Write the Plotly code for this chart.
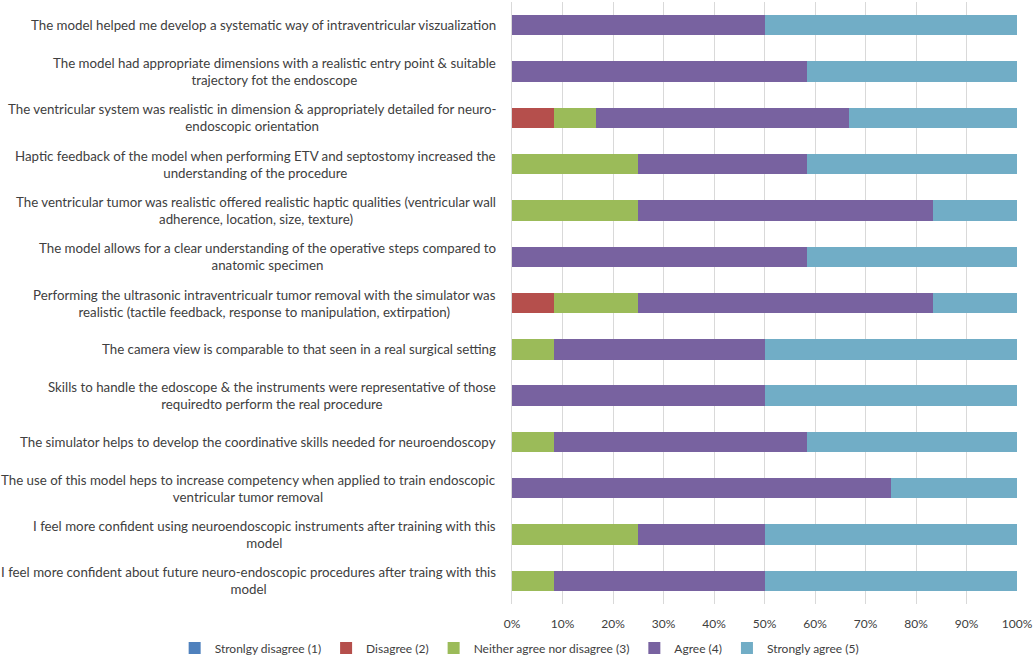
import plotly.graph_objects as go

# Survey statements (top to bottom as in the chart)
statements = [
    "The model helped me develop a systematic way of intraventricular viszualization",
    "The model had appropriate dimensions with a realistic entry point & suitable<br>trajectory fot the endoscope",
    "The ventricular system was realistic in dimension & appropriately detailed for neuro-<br>endoscopic orientation",
    "Haptic feedback of the model when performing ETV and septostomy increased the<br>understanding of the procedure",
    "The ventricular tumor was realistic offered realistic haptic qualities (ventricular wall<br>adherence, location, size, texture)",
    "The model allows for a clear understanding of the operative steps compared to<br>anatomic specimen",
    "Performing the ultrasonic intraventricualr tumor removal with the simulator was<br>realistic (tactile feedback, response to manipulation, extirpation)",
    "The camera view is comparable to that seen in a real surgical setting",
    "Skills to handle the edoscope & the instruments were representative of those<br>requiredto perform the real procedure",
    "The simulator helps to develop the coordinative skills needed for neuroendoscopy",
    "The use of this model heps to increase competency when applied to train endoscopic<br>ventricular tumor removal",
    "I feel more confident using neuroendoscopic instruments after training with this<br>model",
    "I feel more confident about future neuro-endoscopic procedures after traing with this<br>model",
]

# share of respondents (fraction)
strongly_disagree = [0, 0, 0, 0, 0, 0, 0, 0, 0, 0, 0, 0, 0]
disagree = [0, 0, 1/12, 0, 0, 0, 1/12, 0, 0, 0, 0, 0, 0]
neither = [0, 0, 1/12, 3/12, 3/12, 0, 2/12, 1/12, 0, 1/12, 0, 3/12, 1/12]
agree = [6/12, 7/12, 6/12, 4/12, 7/12, 7/12, 7/12, 5/12, 6/12, 6/12, 9/12, 3/12, 5/12]
strongly_agree = [6/12, 5/12, 4/12, 5/12, 2/12, 5/12, 2/12, 6/12, 6/12, 5/12, 3/12, 6/12, 6/12]

series = [
    ("Stronlgy disagree (1)", strongly_disagree, "#4F81BD"),
    ("Disagree (2)", disagree, "#B54F4C"),
    ("Neither agree nor disagree (3)", neither, "#9BBB59"),
    ("Agree (4)", agree, "#7862A0"),
    ("Strongly agree (5)", strongly_agree, "#71ADC6"),
]

ids = list(range(len(statements)))

fig = go.Figure()
for name, vals, col in series:
    fig.add_trace(go.Bar(
        y=ids, x=vals, name=name, orientation="h",
        marker=dict(color=col, line=dict(width=0)),
    ))

# category labels, centred lines like the original
for i, s in zip(ids, statements):
    fig.add_annotation(
        x=0, y=i, xref="paper", yref="y", text=s,
        showarrow=False, xanchor="right", xshift=-14, align="center",
        font=dict(size=13.3, color="#404040"),
    )

fig.update_layout(
    barmode="stack", bargap=0.56,
    width=1036, height=664,
    margin=dict(l=512, r=19, t=2, b=60),
    plot_bgcolor="white", paper_bgcolor="white",
    font=dict(family="Lato, Open Sans, sans-serif", color="#404040", size=12),
    legend=dict(
        orientation="h", xref="paper", yref="paper",
        x=-0.668, y=-0.073, xanchor="left", yanchor="middle",
        font=dict(size=12), traceorder="normal",
        itemwidth=30, bgcolor="rgba(0,0,0,0)",
    ),
    showlegend=True,
)
fig.update_xaxes(
    range=[0, 1], tickformat=".0%", dtick=0.1, tick0=0,
    showgrid=True, gridcolor="#D9D9D9", gridwidth=1,
    zeroline=False, showline=False, ticks="", ticklabelstandoff=11,
    fixedrange=True, tickfont=dict(size=12, color="#404040"),
)
fig.update_yaxes(
    autorange="reversed", showticklabels=False, showgrid=False,
    showline=True, linecolor="#D9D9D9", zeroline=False,
)

fig.write_html("out.html", config={"displayModeBar": False},
               post_script="document.body.style.margin='0px';")
